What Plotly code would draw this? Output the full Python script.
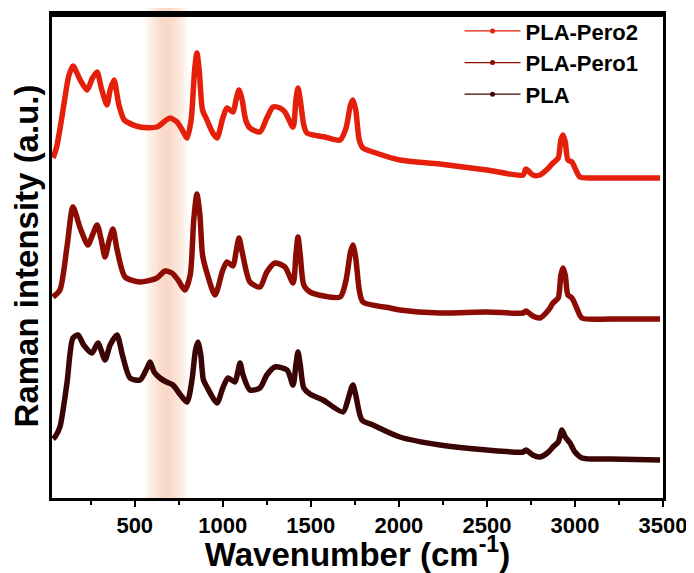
import plotly.graph_objects as go

# Raman shift (cm-1) and offset intensities (a.u.)
wn_pero2 = [36, 55, 80, 105, 125, 149, 190, 229, 260, 286, 310, 342, 360, 382, 410, 440, 456, 530, 626,
            672, 700, 740, 770, 797, 820, 840, 853, 866, 885, 910, 940, 967, 1000, 1024, 1058, 1075, 1092,
            1110, 1130, 1154, 1211, 1250, 1285, 1325, 1353, 1399, 1415, 1427, 1440, 1460, 1478, 1580, 1666,
            1700, 1725, 1739, 1755, 1775, 1796, 1853, 2006, 2233, 2500, 2705, 2722, 2760, 2801, 2850, 2875,
            2905, 2920, 2932, 2945, 2960, 2983, 3000, 3028, 3100, 3300, 3483]
int_pero2 = [336, 346, 370, 398, 418, 428, 414, 404, 416, 422, 406, 389, 404, 414, 389, 374, 372, 367, 367,
             373, 376, 372, 364, 356, 374, 424, 441, 424, 384, 374, 362, 356, 376, 386, 382, 394, 404,
             394, 374, 366, 362, 376, 387, 386, 382, 367, 394, 406, 394, 369, 361, 357, 354,
             366, 389, 394, 384, 354, 346, 342, 334, 330, 324, 319, 325, 319, 319, 326, 331,
             336, 354, 359, 352, 334, 332, 326, 317, 316, 316, 316]

wn_pero1 = [36, 75, 115, 149, 190, 234, 260, 286, 310, 331, 355, 376, 400, 445, 530, 626, 672, 711, 746,
            785, 815, 835, 853, 870, 885, 910, 956, 1000, 1024, 1058, 1075, 1092, 1110, 1154, 1211, 1250,
            1296, 1353, 1399, 1415, 1427, 1440, 1460, 1495, 1666, 1700, 1725, 1739, 1755, 1775, 1796, 1950,
            2006, 2233, 2500, 2705, 2722, 2760, 2801, 2850, 2875, 2905, 2920, 2932, 2945, 2960, 2983, 3010,
            3040, 3200, 3483]
int_pero1 = [197, 204, 247, 287, 266, 249, 259, 269, 254, 237, 254, 265, 244, 217, 212, 216, 223, 221, 214,
             204, 219, 274, 300, 279, 239, 221, 199, 224, 232, 228, 242, 256, 242, 212, 207, 222,
             231, 227, 211, 239, 257, 239, 209, 202, 197, 214, 242, 249, 236, 204, 192, 186,
             184, 181, 182, 181, 183, 178, 176, 184, 191, 196, 219, 226, 219, 199, 196, 186,
             176, 175, 175]

wn_pla = [36, 47, 75, 115, 149, 178, 210, 257, 291, 331, 360, 399, 430, 473, 530, 570, 587, 610, 643, 680,
          717, 760, 797, 825, 845, 859, 875, 890, 910, 967, 1000, 1030, 1069, 1085, 1098, 1115, 1154, 1211,
          1250, 1296, 1365, 1399, 1415, 1427, 1440, 1460, 1495, 1569, 1683, 1710, 1730, 1739, 1755, 1790,
          1853, 2006, 2233, 2500, 2705, 2722, 2760, 2801, 2850, 2875, 2905, 2926, 2945, 2972, 3000, 3040,
          3200, 3483]
int_pla = [55, 57, 67, 111, 156, 159, 149, 141, 151, 134, 149, 159, 139, 116, 114, 126, 132, 122, 116, 112,
           109, 99, 92, 114, 144, 152, 139, 114, 107, 91, 106, 116, 112, 122, 131, 119, 104, 106,
           119, 127, 124, 109, 129, 142, 129, 106, 100, 94, 82, 94, 106, 109, 99, 74,
           69, 57, 49, 44, 42, 44, 39, 37, 42, 47, 52, 64, 57, 51, 42, 36,
           35, 34]

x_ticks = [500, 1000, 1500, 2000, 2500, 3000, 3500]
band = [560, 800]

series = [
    ("PLA-Pero2", wn_pero2, int_pero2, "#e41f0a"),
    ("PLA-Pero1", wn_pero1, int_pero1, "#8c0c03"),
    ("PLA", wn_pla, int_pla, "#3c0505"),
]

fig = go.Figure()

# highlighted region, darker towards the centre (stacked faint strips)
for k in range(6):
    inset = k * 18
    fig.add_shape(type="rect", xref="x", yref="paper", x0=band[0] + inset, x1=band[1] - inset,
                  y0=0, y1=1.015, fillcolor="rgba(250,190,160,0.12)", line_width=0, layer="below")

# top edge of the frame, drawn explicitly
fig.add_shape(type="line", xref="paper", yref="paper", x0=0, x1=1, y0=0.997, y1=0.997,
              line=dict(color="black", width=3), layer="above")

for name, x, y, col in series:
    fig.add_trace(go.Scatter(x=x, y=y, mode="lines", line=dict(color=col, width=5.5, shape="spline", smoothing=0.7),
                             showlegend=False, hoverinfo="skip"))
    # legend entry: thin line with a small dot
    fig.add_trace(go.Scatter(x=[None], y=[None], mode="lines+markers", name=name,
                             line=dict(color=col, width=1.2), marker=dict(color=col, size=5)))

fig.update_xaxes(range=[30, 3500], tickvals=x_ticks, ticks="outside", ticklen=6, tickwidth=2,
                 tickcolor="black", showline=True, linewidth=3, linecolor="black", mirror=True,
                 showgrid=False, zeroline=False, automargin=False,
                 minor=dict(dtick=250, tick0=0, ticks="outside", ticklen=4, tickwidth=2, tickcolor="black"),
                 tickfont=dict(family="Liberation Sans, Arial", size=22, color="black", weight="bold"),
                 title=dict(text="Wavenumber (cm<sup>-1</sup>)", standoff=2,
                            font=dict(family="Liberation Sans, Arial", size=33, color="black", weight="bold")))
fig.update_yaxes(range=[-4, 480], showticklabels=False, ticks="", showline=True, linewidth=3,
                 linecolor="black", mirror=True, showgrid=False, zeroline=False, automargin=False,
                 title=dict(text="Raman intensity (a.u.)", standoff=6,
                            font=dict(family="Liberation Sans, Arial", size=33, color="black", weight="bold")))

# page body adds an 8 px offset, so the figure is sized to fit inside the window
fig.update_layout(width=686, height=565, margin=dict(l=44, r=31, t=6, b=75, autoexpand=False),
                  plot_bgcolor="white", paper_bgcolor="white",
                  legend=dict(x=0.667, y=1.008, xanchor="left", yanchor="top", bgcolor="rgba(0,0,0,0)",
                              font=dict(family="Liberation Sans, Arial", size=22, color="black", weight="bold"),
                              itemwidth=56, tracegroupgap=0))

fig.write_html("out.html")
